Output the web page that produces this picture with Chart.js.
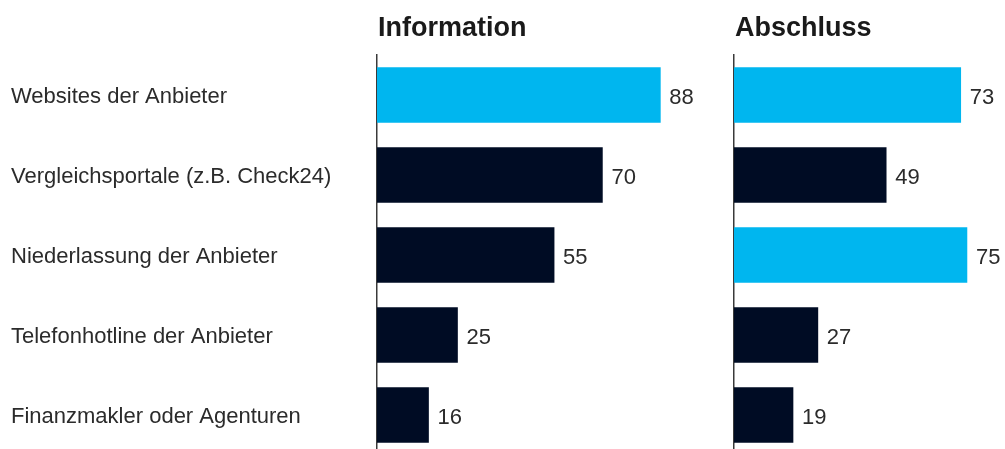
<!DOCTYPE html>
<html>
<head>
<meta charset="utf-8">
<script src="https://cdn.jsdelivr.net/npm/chart.js@4.4.1/dist/chart.umd.min.js"></script>
<style>
  html, body { margin: 0; padding: 0; background: #fff; overflow: hidden; width: 1005px; height: 449px; }
  #info { position: absolute; left: 0; top: 0; }
  #abschluss { position: absolute; left: 720px; top: 0; }
</style>
</head>
<body>
<canvas id="info" width="720" height="460"></canvas>
<canvas id="abschluss" width="285" height="460"></canvas>
<script>
// Channels asked about
const categories = [
  'Websites der Anbieter',
  'Vergleichsportale (z.B. Check24)',
  'Niederlassung der Anbieter',
  'Telefonhotline der Anbieter',
  'Finanzmakler oder Agenturen'
];
// Share of respondents per channel (%)
const informationValues = [88, 70, 55, 25, 16];
const abschlussValues = [73, 49, 75, 27, 19];
const panelTitles = ['Information', 'Abschluss'];

// Styling
const CYAN = '#00b6ef';
const NAVY = '#000c24';
const informationColors = [CYAN, NAVY, NAVY, NAVY, NAVY];
const abschlussColors = [CYAN, NAVY, CYAN, NAVY, NAVY];
const FONT = '"Liberation Sans", Arial, sans-serif';

// Writes each bar's value just past its end
const valueLabels = {
  id: 'valueLabels',
  afterDatasetsDraw(chart) {
    const ctx = chart.ctx;
    const ds = chart.data.datasets[0];
    const meta = chart.getDatasetMeta(0);
    ctx.save();
    ctx.font = '22px ' + FONT;
    ctx.fillStyle = '#2b2b2b';
    ctx.textAlign = 'left';
    ctx.textBaseline = 'middle';
    meta.data.forEach((bar, i) => {
      ctx.fillText(String(ds.data[i]), bar.x + 9, bar.y + 3);
    });
    ctx.restore();
  }
};

// Bold heading above each panel, aligned with its axis line
const panelTitle = {
  id: 'panelTitle',
  afterDraw(chart, args, opts) {
    const ctx = chart.ctx;
    ctx.save();
    ctx.font = 'bold 27px ' + FONT;
    ctx.fillStyle = '#1a1a1a';
    ctx.textAlign = 'left';
    ctx.textBaseline = 'alphabetic';
    ctx.fillText(opts.text, chart.chartArea.left + 1, 36);
    ctx.restore();
  }
};

function makePanel(canvasId, title, values, colors, opts) {
  return new Chart(document.getElementById(canvasId), {
    type: 'bar',
    data: {
      labels: categories,
      datasets: [{
        data: values,
        backgroundColor: colors,
        borderWidth: 0,
        barThickness: 55,
        categoryPercentage: 1
      }]
    },
    options: {
      indexAxis: 'y',
      responsive: false,
      animation: false,
      layout: { padding: opts.padding },
      plugins: {
        legend: { display: false },
        tooltip: { enabled: false },
        panelTitle: { text: title }
      },
      scales: {
        x: { display: false, min: 0, max: opts.max },
        y: {
          z: 1,
          afterFit(scale) {
            scale.width = opts.axisWidth;
            scale.paddingTop = 0;
            scale.paddingBottom = 0;
          },
          grid: { display: false, drawTicks: false },
          border: { display: true, color: '#3a3a3a', width: 1.5 },
          ticks: {
            display: opts.showLabels,
            crossAlign: 'far',
            padding: 0,
            labelOffset: 2,
            color: '#2b2b2b',
            font: { family: FONT, size: 22 }
          }
        }
      }
    },
    plugins: [valueLabels, panelTitle]
  });
}

makePanel('info', panelTitles[0], informationValues, informationColors, {
  padding: { left: 11, right: 21, top: 55, bottom: 5 },
  axisWidth: 366,
  max: 100,
  showLabels: true
});

makePanel('abschluss', panelTitles[1], abschlussValues, abschlussColors, {
  padding: { left: 14, right: 7, top: 55, bottom: 5 },
  axisWidth: 0,
  max: 85,
  showLabels: false
});
</script>
</body>
</html>
